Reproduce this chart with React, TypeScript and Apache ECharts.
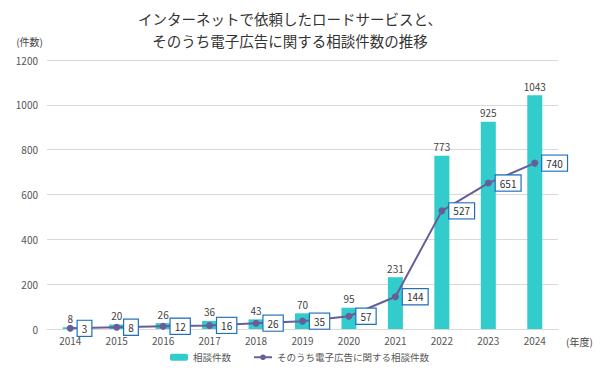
import React, { useEffect, useRef } from "react";
import * as echarts from "echarts";

const years = ["2014", "2015", "2016", "2017", "2018", "2019", "2020", "2021", "2022", "2023", "2024"];
const consultations = [8, 20, 26, 36, 43, 70, 95, 231, 773, 925, 1043];
const adConsultations = [3, 8, 12, 16, 26, 35, 57, 144, 527, 651, 740];
const yTicks = { min: 0, max: 1200, interval: 200 };

const FONT = "'Noto Sans CJK JP', 'Noto Sans', sans-serif";

export default function App() {
  const ref = useRef<HTMLDivElement>(null);
  useEffect(() => {
    const chart = echarts.init(ref.current!, undefined, { renderer: "svg" });
    chart.setOption({
      animation: false,
      textStyle: { fontFamily: FONT },
      title: {
        text: "インターネットで依頼したロードサービスと、\nそのうち電子広告に関する相談件数の推移",
        left: 290,
        textAlign: "center",
        top: 7,
        padding: 0,
        textStyle: { fontSize: 14.5, fontWeight: "normal", color: "#333", lineHeight: 22, fontFamily: FONT },
      },
      grid: { left: 47, right: 42, top: 60, bottom: 44 },
      legend: {
        bottom: 6,
        left: 165,
        itemWidth: 18,
        itemHeight: 7,
        itemGap: 22,
        textStyle: { fontSize: 9.5, color: "#555" },
        data: ["相談件数", "そのうち電子広告に関する相談件数"],
      },
      xAxis: {
        type: "category",
        data: years,
        name: "(年度)",
        nameLocation: "end",
        nameGap: 8,
        nameTextStyle: { fontSize: 10, color: "#444", verticalAlign: "top", padding: [8, 0, 0, 0] },
        axisLine: { lineStyle: { color: "#d9d9d9" } },
        axisTick: { show: false },
        axisLabel: { fontSize: 10, color: "#555", margin: 6 },
      },
      yAxis: {
        type: "value",
        min: yTicks.min,
        max: yTicks.max,
        interval: yTicks.interval,
        name: "(件数)",
        nameLocation: "end",
        nameGap: 14,
        nameTextStyle: { fontSize: 10, color: "#444", align: "right", padding: [0, 4, 0, 0] },
        axisLine: { show: false },
        axisTick: { show: false },
        axisLabel: { fontSize: 10, color: "#555", margin: 9, formatter: (v: number) => String(v) },
        splitLine: { lineStyle: { color: "#d9d9d9" } },
      },
      series: [
        {
          name: "相談件数",
          type: "bar",
          data: consultations,
          barWidth: 15,
          itemStyle: { color: "#33cccc" },
          label: { show: true, position: "top", fontSize: 10, color: "#444", distance: 4 },
        },
        {
          name: "そのうち電子広告に関する相談件数",
          type: "line",
          data: adConsultations,
          symbol: "circle",
          symbolSize: 7,
          lineStyle: { color: "#675e99", width: 2 },
          itemStyle: { color: "#675e99" },
          label: {
            show: true,
            position: "right",
            distance: 4,
            fontSize: 10,
            color: "#333",
            backgroundColor: "#fff",
            borderColor: "#1f6fbf",
            borderWidth: 1.2,
            padding: [3, 4, 2, 4],
          },
        },
      ],
    });
    return () => chart.dispose();
  }, []);
  return <div ref={ref} style={{ width: 600, height: 373, position: "absolute", left: 0, top: 0 }} />;
}
